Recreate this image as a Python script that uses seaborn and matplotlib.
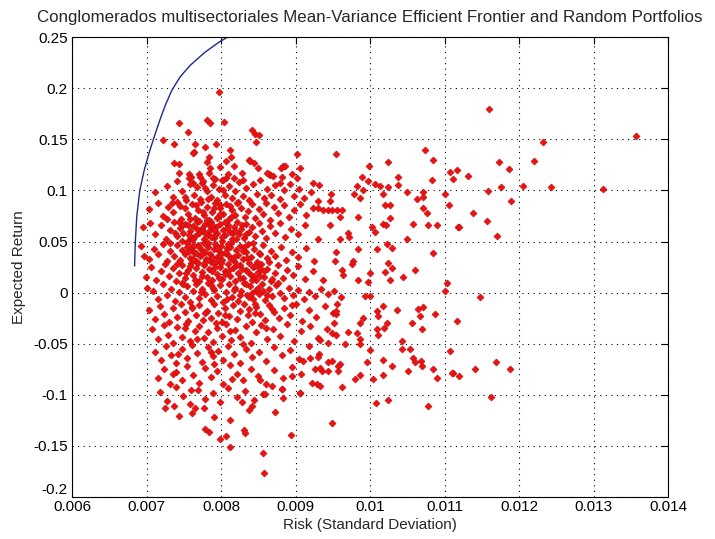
import matplotlib
matplotlib.use("Agg")
import matplotlib.pyplot as plt
import seaborn as sns
import pandas as pd

# efficient frontier (risk, return)
frontier_risk = [0.00684, 0.00685, 0.00687, 0.00691, 0.00697, 0.00704, 0.00711, 0.00718,
                 0.00725, 0.00734, 0.00745, 0.00758, 0.00778, 0.00797, 0.00811, 0.00830]
frontier_ret = [0.026, 0.050, 0.075, 0.100, 0.120, 0.138, 0.154, 0.169,
                0.183, 0.198, 0.211, 0.222, 0.235, 0.245, 0.251, 0.259]

# random portfolios, grouped by region of the cloud
upper_pts = [(0.00797, 0.196), (0.00743, 0.166), (0.00781, 0.169), (0.00785, 0.166), (0.00804, 0.167),
             (0.00756, 0.157), (0.00722, 0.149), (0.00737, 0.145), (0.00765, 0.145), (0.00778, 0.143),
             (0.00793, 0.145), (0.00764, 0.138), (0.00812, 0.140), (0.00813, 0.133), (0.00784, 0.133),
             (0.00781, 0.128), (0.00842, 0.159), (0.00846, 0.155), (0.00851, 0.154), (0.00847, 0.147),
             (0.00737, 0.127), (0.00743, 0.126), (0.00744, 0.117), (0.00757, 0.116), (0.00760, 0.113),
             (0.00770, 0.116), (0.00772, 0.113), (0.00784, 0.117), (0.00799, 0.123), (0.00807, 0.129),
             (0.00817, 0.124), (0.00838, 0.130), (0.00844, 0.127), (0.00864, 0.116), (0.00828, 0.117),
             (0.00807, 0.112), (0.00902, 0.136), (0.00883, 0.124), (0.00880, 0.122), (0.00906, 0.122),
             (0.00866, 0.115), (0.00870, 0.114), (0.00882, 0.113), (0.00902, 0.112), (0.00762, 0.137),
             (0.00785, 0.122), (0.00809, 0.116), (0.00803, 0.110), (0.00762, 0.107), (0.00839, 0.129),
             (0.00862, 0.117), (0.00886, 0.124), (0.00879, 0.107), (0.00924, 0.107), (0.00830, 0.110),
             (0.00792, 0.111), (0.00775, 0.107), (0.00895, 0.116), (0.00850, 0.122)]

core_a = [(0.00712, 0.098), (0.00728, 0.104), (0.00735, 0.094), (0.00741, 0.109), (0.00748, 0.099),
          (0.00753, 0.091), (0.00759, 0.106), (0.00764, 0.096), (0.00768, 0.103), (0.00772, 0.092),
          (0.00776, 0.109), (0.00781, 0.099), (0.00786, 0.094), (0.00789, 0.105), (0.00794, 0.091),
          (0.00797, 0.101), (0.00801, 0.110), (0.00806, 0.096), (0.00811, 0.104), (0.00815, 0.093),
          (0.00819, 0.099), (0.00824, 0.108), (0.00829, 0.095), (0.00833, 0.102), (0.00838, 0.091),
          (0.00843, 0.106), (0.00848, 0.097), (0.00853, 0.110), (0.00858, 0.093), (0.00862, 0.101),
          (0.00867, 0.096), (0.00873, 0.105), (0.00879, 0.092), (0.00885, 0.100), (0.00892, 0.106),
          (0.00898, 0.095), (0.00905, 0.101), (0.00912, 0.093), (0.00921, 0.098), (0.00757, 0.112),
          (0.00818, 0.112)]

core_b = [(0.00703, 0.082), (0.00716, 0.088), (0.00722, 0.075), (0.00729, 0.084), (0.00736, 0.079),
          (0.00741, 0.089), (0.00746, 0.072), (0.00751, 0.083), (0.00756, 0.077), (0.00761, 0.087),
          (0.00765, 0.073), (0.00769, 0.081), (0.00773, 0.089), (0.00777, 0.076), (0.00781, 0.084),
          (0.00784, 0.071), (0.00788, 0.079), (0.00792, 0.088), (0.00796, 0.074), (0.00799, 0.083),
          (0.00803, 0.077), (0.00807, 0.087), (0.00811, 0.072), (0.00815, 0.081), (0.00819, 0.076),
          (0.00823, 0.089), (0.00827, 0.083), (0.00832, 0.074), (0.00836, 0.080), (0.00841, 0.087),
          (0.00846, 0.073), (0.00851, 0.082), (0.00856, 0.077), (0.00861, 0.088), (0.00866, 0.071),
          (0.00871, 0.084), (0.00877, 0.078), (0.00884, 0.086), (0.00891, 0.074), (0.00898, 0.081),
          (0.00906, 0.087), (0.00914, 0.076), (0.00923, 0.083), (0.00745, 0.085), (0.00790, 0.083),
          (0.00812, 0.085)]

core_c = [(0.00695, 0.064), (0.00705, 0.068), (0.00712, 0.057), (0.00719, 0.066), (0.00726, 0.052),
          (0.00731, 0.061), (0.00737, 0.069), (0.00741, 0.055), (0.00745, 0.063), (0.00749, 0.058),
          (0.00752, 0.067), (0.00756, 0.051), (0.00759, 0.060), (0.00762, 0.065), (0.00765, 0.055),
          (0.00768, 0.069), (0.00771, 0.058), (0.00774, 0.063), (0.00777, 0.052), (0.00779, 0.067),
          (0.00782, 0.056), (0.00785, 0.061), (0.00787, 0.069), (0.00790, 0.053), (0.00793, 0.064),
          (0.00795, 0.058), (0.00798, 0.067), (0.00801, 0.051), (0.00803, 0.061), (0.00806, 0.056),
          (0.00809, 0.066), (0.00812, 0.059), (0.00815, 0.052), (0.00818, 0.064), (0.00821, 0.069),
          (0.00824, 0.057), (0.00827, 0.062), (0.00831, 0.053), (0.00834, 0.067), (0.00838, 0.059),
          (0.00842, 0.064), (0.00846, 0.055), (0.00851, 0.068), (0.00855, 0.060), (0.00860, 0.053),
          (0.00866, 0.065), (0.00872, 0.058), (0.00879, 0.068), (0.00886, 0.054), (0.00894, 0.062),
          (0.00903, 0.057), (0.00913, 0.066), (0.00748, 0.066), (0.00776, 0.060), (0.00792, 0.056),
          (0.00808, 0.063), (0.00760, 0.053), (0.00784, 0.066), (0.00816, 0.058), (0.00828, 0.066)]

core_d = [(0.00692, 0.046), (0.00697, 0.036), (0.00703, 0.033), (0.00710, 0.043), (0.00716, 0.038),
          (0.00722, 0.048), (0.00727, 0.031), (0.00732, 0.041), (0.00737, 0.036), (0.00741, 0.047),
          (0.00745, 0.032), (0.00748, 0.042), (0.00752, 0.038), (0.00755, 0.049), (0.00758, 0.034),
          (0.00761, 0.044), (0.00764, 0.039), (0.00767, 0.031), (0.00769, 0.047), (0.00772, 0.036),
          (0.00775, 0.042), (0.00777, 0.049), (0.00780, 0.033), (0.00782, 0.045), (0.00785, 0.038),
          (0.00787, 0.030), (0.00790, 0.043), (0.00792, 0.048), (0.00795, 0.035), (0.00797, 0.041),
          (0.00800, 0.046), (0.00802, 0.032), (0.00805, 0.039), (0.00808, 0.044), (0.00811, 0.036),
          (0.00814, 0.049), (0.00817, 0.031), (0.00820, 0.042), (0.00823, 0.037), (0.00826, 0.046),
          (0.00829, 0.033), (0.00833, 0.040), (0.00836, 0.048), (0.00840, 0.035), (0.00844, 0.043),
          (0.00848, 0.030), (0.00852, 0.038), (0.00857, 0.047), (0.00862, 0.034), (0.00867, 0.041),
          (0.00873, 0.036), (0.00880, 0.045), (0.00887, 0.032), (0.00895, 0.040), (0.00904, 0.035),
          (0.00914, 0.044), (0.00925, 0.031), (0.00763, 0.047), (0.00786, 0.034), (0.00799, 0.037),
          (0.00812, 0.045), (0.00778, 0.040), (0.00757, 0.041), (0.00831, 0.045), (0.00794, 0.031),
          (0.00818, 0.035)]

core_e = [(0.00699, 0.015), (0.00706, 0.025), (0.00713, 0.012), (0.00719, 0.021), (0.00725, 0.028),
          (0.00730, 0.016), (0.00735, 0.024), (0.00740, 0.011), (0.00744, 0.019), (0.00748, 0.027),
          (0.00752, 0.014), (0.00756, 0.022), (0.00760, 0.029), (0.00763, 0.017), (0.00767, 0.024),
          (0.00770, 0.011), (0.00774, 0.020), (0.00777, 0.027), (0.00781, 0.015), (0.00784, 0.023),
          (0.00788, 0.012), (0.00791, 0.029), (0.00795, 0.018), (0.00798, 0.025), (0.00802, 0.013),
          (0.00805, 0.021), (0.00809, 0.028), (0.00812, 0.016), (0.00816, 0.024), (0.00819, 0.011),
          (0.00823, 0.019), (0.00826, 0.027), (0.00830, 0.014), (0.00833, 0.022), (0.00837, 0.029),
          (0.00840, 0.017), (0.00843, 0.025), (0.00847, 0.012), (0.00850, 0.020), (0.00854, 0.028),
          (0.00858, 0.015), (0.00862, 0.023), (0.00867, 0.011), (0.00872, 0.019), (0.00877, 0.027),
          (0.00883, 0.014), (0.00889, 0.022), (0.00896, 0.017), (0.00904, 0.026), (0.00913, 0.013),
          (0.00923, 0.021), (0.00836, 0.020), (0.00844, 0.016), (0.00852, 0.024), (0.00828, 0.023),
          (0.00806, 0.018), (0.00775, 0.016), (0.00758, 0.026), (0.00788, 0.021)]

core_f = [(0.00701, 0.005), (0.00709, 0.002), (0.00716, -0.006), (0.00722, 0.008), (0.00728, -0.002),
          (0.00733, 0.004), (0.00738, -0.008), (0.00743, 0.001), (0.00747, 0.009), (0.00751, -0.004),
          (0.00755, 0.006), (0.00759, -0.009), (0.00763, 0.002), (0.00767, 0.008), (0.00771, -0.005),
          (0.00775, 0.004), (0.00779, -0.001), (0.00783, 0.009), (0.00787, -0.007), (0.00791, 0.003),
          (0.00795, -0.003), (0.00799, 0.007), (0.00803, -0.009), (0.00807, 0.001), (0.00811, 0.008),
          (0.00815, -0.004), (0.00819, 0.005), (0.00823, -0.008), (0.00827, 0.002), (0.00831, 0.009),
          (0.00835, -0.002), (0.00839, 0.006), (0.00843, -0.006), (0.00847, 0.003), (0.00851, -0.001),
          (0.00855, 0.008), (0.00859, -0.007), (0.00864, 0.004), (0.00869, -0.003), (0.00874, 0.007),
          (0.00879, 0.000), (0.00885, -0.005), (0.00891, 0.005), (0.00897, -0.002), (0.00904, 0.003),
          (0.00911, -0.006), (0.00918, 0.001), (0.00926, -0.003), (0.00934, 0.004), (0.00943, -0.001),
          (0.00952, 0.002), (0.00961, -0.004), (0.00841, 0.000), (0.00862, -0.002), (0.00877, 0.009),
          (0.00808, -0.006), (0.00789, 0.005)]

core_g = [(0.00703, -0.017), (0.00711, -0.026), (0.00718, -0.013), (0.00724, -0.021), (0.00730, -0.029),
          (0.00735, -0.015), (0.00741, -0.024), (0.00746, -0.011), (0.00751, -0.019), (0.00756, -0.028),
          (0.00761, -0.014), (0.00766, -0.022), (0.00771, -0.012), (0.00776, -0.027), (0.00781, -0.018),
          (0.00786, -0.025), (0.00791, -0.011), (0.00796, -0.020), (0.00801, -0.029), (0.00806, -0.015),
          (0.00811, -0.023), (0.00816, -0.012), (0.00821, -0.026), (0.00826, -0.018), (0.00831, -0.011),
          (0.00836, -0.022), (0.00842, -0.029), (0.00847, -0.014), (0.00853, -0.021), (0.00859, -0.027),
          (0.00865, -0.012), (0.00871, -0.019), (0.00878, -0.025), (0.00885, -0.015), (0.00893, -0.022),
          (0.00901, -0.011), (0.00909, -0.028), (0.00918, -0.017), (0.00928, -0.024), (0.00939, -0.013),
          (0.00950, -0.020), (0.00956, -0.011), (0.00868, -0.016), (0.00895, -0.012), (0.00838, -0.016)]

core_h = [(0.00708, -0.036), (0.00716, -0.045), (0.00723, -0.032), (0.00729, -0.041), (0.00735, -0.049),
          (0.00741, -0.034), (0.00747, -0.043), (0.00753, -0.031), (0.00759, -0.047), (0.00765, -0.038),
          (0.00771, -0.033), (0.00777, -0.044), (0.00783, -0.039), (0.00789, -0.048), (0.00795, -0.035),
          (0.00801, -0.042), (0.00807, -0.031), (0.00813, -0.046), (0.00819, -0.037), (0.00826, -0.043),
          (0.00833, -0.033), (0.00840, -0.049), (0.00847, -0.039), (0.00854, -0.032), (0.00862, -0.045),
          (0.00870, -0.036), (0.00879, -0.042), (0.00888, -0.031), (0.00898, -0.047), (0.00908, -0.038),
          (0.00919, -0.033), (0.00930, -0.044), (0.00942, -0.036), (0.00955, -0.041)]

core_i = [(0.00712, -0.058), (0.00719, -0.066), (0.00726, -0.052), (0.00733, -0.061), (0.00740, -0.069),
          (0.00747, -0.055), (0.00754, -0.064), (0.00761, -0.051), (0.00768, -0.059), (0.00775, -0.068),
          (0.00782, -0.053), (0.00789, -0.062), (0.00796, -0.057), (0.00803, -0.066), (0.00810, -0.052),
          (0.00818, -0.060), (0.00826, -0.069), (0.00834, -0.055), (0.00842, -0.063), (0.00851, -0.058),
          (0.00861, -0.067), (0.00871, -0.053), (0.00882, -0.061), (0.00893, -0.056), (0.00905, -0.065),
          (0.00918, -0.052), (0.00931, -0.060), (0.00944, -0.068)]

core_j = [(0.00715, -0.084), (0.00723, -0.075), (0.00731, -0.089), (0.00739, -0.078), (0.00747, -0.086),
          (0.00755, -0.072), (0.00763, -0.081), (0.00771, -0.088), (0.00779, -0.074), (0.00787, -0.083),
          (0.00795, -0.077), (0.00803, -0.089), (0.00812, -0.071), (0.00821, -0.080), (0.00830, -0.086),
          (0.00840, -0.075), (0.00850, -0.082), (0.00860, -0.089), (0.00871, -0.076), (0.00883, -0.084),
          (0.00895, -0.073), (0.00908, -0.080), (0.00922, -0.088), (0.00935, -0.077)]

core_k = [(0.00718, -0.097), (0.00728, -0.106), (0.00739, -0.092), (0.00749, -0.101), (0.00759, -0.109),
          (0.00769, -0.095), (0.00779, -0.104), (0.00789, -0.098), (0.00799, -0.107), (0.00810, -0.093),
          (0.00821, -0.102), (0.00832, -0.096), (0.00844, -0.105), (0.00856, -0.099), (0.00869, -0.091),
          (0.00882, -0.094), (0.00906, -0.098)]

# the most crowded part of the cloud
core_dense = [(0.00763, 0.052), (0.00771, 0.045), (0.00779, 0.058), (0.00783, 0.049), (0.00791, 0.061),
              (0.00796, 0.044), (0.00774, 0.038), (0.00788, 0.035), (0.00802, 0.054), (0.00768, 0.062),
              (0.00781, 0.071), (0.00795, 0.073), (0.00809, 0.048), (0.00754, 0.045), (0.00747, 0.051),
              (0.00759, 0.072), (0.00776, 0.079), (0.00788, 0.066), (0.00800, 0.029), (0.00813, 0.033),
              (0.00822, 0.027), (0.00835, 0.034), (0.00829, 0.041), (0.00845, 0.026), (0.00841, 0.012),
              (0.00849, 0.005), (0.00834, 0.008), (0.00826, 0.014), (0.00853, 0.016), (0.00857, 0.002),
              (0.00838, -0.004), (0.00846, -0.011), (0.00825, -0.002), (0.00817, 0.003), (0.00858, 0.021),
              (0.00864, 0.030), (0.00869, 0.013), (0.00811, 0.022), (0.00797, 0.014), (0.00786, 0.007),
              (0.00773, 0.001), (0.00765, 0.012), (0.00753, 0.019), (0.00741, 0.028), (0.00762, 0.033),
              (0.00738, 0.058), (0.00731, 0.049), (0.00727, 0.072), (0.00734, 0.088), (0.00752, 0.094),
              (0.00767, 0.086), (0.00782, 0.092), (0.00798, 0.086), (0.00805, 0.069), (0.00814, 0.074),
              (0.00820, 0.052), (0.00792, 0.025), (0.00778, 0.030), (0.00766, 0.039), (0.00757, 0.056),
              (0.00744, 0.069), (0.00807, 0.040), (0.00819, 0.060), (0.00833, 0.057), (0.00843, 0.049),
              (0.00851, 0.039), (0.00822, 0.088), (0.00803, 0.100), (0.00789, 0.112), (0.00779, 0.102),
              (0.00770, 0.070), (0.00798, 0.077), (0.00756, 0.066), (0.00786, 0.054), (0.00769, 0.029),
              (0.00749, 0.008), (0.00761, -0.015), (0.00778, -0.020), (0.00793, -0.030), (0.00805, -0.022),
              (0.00752, -0.035), (0.00742, -0.060), (0.00768, -0.045), (0.00786, -0.058), (0.00812, -0.038),
              (0.00845, -0.020), (0.00860, -0.035), (0.00830, -0.050), (0.00735, -0.080), (0.00760, -0.095),
              (0.00790, -0.070), (0.00815, -0.085)]

lower_pts = [(0.00725, -0.113), (0.00737, -0.111), (0.00761, -0.118), (0.00765, -0.113), (0.00777, -0.113),
             (0.00778, -0.133), (0.00784, -0.136), (0.00799, -0.143), (0.00807, -0.140), (0.00812, -0.125),
             (0.00812, -0.151), (0.00828, -0.107), (0.00831, -0.134), (0.00832, -0.137), (0.00838, -0.115),
             (0.00842, -0.111), (0.00856, -0.157), (0.00858, -0.177), (0.00872, -0.117), (0.00894, -0.139),
             (0.00949, -0.128), (0.01008, -0.108), (0.01024, -0.105), (0.01078, -0.111), (0.01162, -0.102),
             (0.00744, -0.121), (0.00790, -0.122)]

right_upper_pts = [(0.00954, 0.136), (0.01074, 0.140), (0.01085, 0.130), (0.01024, 0.128), (0.00999, 0.124),
                   (0.01107, 0.118), (0.01117, 0.120), (0.01112, 0.111), (0.00932, 0.105), (0.00989, 0.113),
                   (0.01037, 0.113), (0.01083, 0.110), (0.00997, 0.109), (0.01007, 0.106), (0.01013, 0.104),
                   (0.01024, 0.103), (0.01038, 0.105), (0.00983, 0.104), (0.00991, 0.100), (0.01050, 0.098),
                   (0.01071, 0.098), (0.01101, 0.097), (0.00948, 0.097), (0.00979, 0.097), (0.00987, 0.093),
                   (0.01017, 0.097), (0.01063, 0.092), (0.01071, 0.094), (0.00930, 0.090), (0.00946, 0.090),
                   (0.00937, 0.081), (0.00943, 0.081), (0.00949, 0.081), (0.00956, 0.081), (0.00962, 0.081),
                   (0.00930, 0.083), (0.01020, 0.086), (0.01027, 0.086), (0.01071, 0.083), (0.01076, 0.078),
                   (0.01106, 0.086), (0.00960, 0.074), (0.00984, 0.074), (0.01027, 0.073), (0.01058, 0.067),
                   (0.01078, 0.066), (0.01090, 0.066), (0.01118, 0.064), (0.00946, 0.066), (0.01003, 0.064),
                   (0.01007, 0.059), (0.01017, 0.067), (0.01022, 0.066), (0.00970, 0.058), (0.00972, 0.054),
                   (0.00960, 0.052), (0.00930, 0.052), (0.01050, 0.052), (0.01023, 0.048), (0.01030, 0.044),
                   (0.00984, 0.043), (0.01009, 0.043), (0.01085, 0.039), (0.00954, 0.040), (0.00977, 0.031),
                   (0.00976, 0.028), (0.00953, 0.031), (0.01024, 0.029), (0.01030, 0.024), (0.01060, 0.022),
                   (0.00962, 0.022), (0.00964, 0.017), (0.01000, 0.019), (0.01027, 0.012), (0.01020, 0.020),
                   (0.01044, 0.015), (0.00997, 0.010), (0.00984, 0.012), (0.01103, 0.009), (0.00937, 0.012)]

far_right_pts = [(0.01160, 0.180), (0.01357, 0.153), (0.01232, 0.147), (0.01220, 0.129), (0.01173, 0.128),
                 (0.01187, 0.121), (0.01132, 0.114), (0.01158, 0.099), (0.01176, 0.103), (0.01205, 0.104),
                 (0.01243, 0.103), (0.01313, 0.101), (0.01189, 0.090), (0.01138, 0.078), (0.01157, 0.070),
                 (0.01119, 0.064), (0.01170, 0.055), (0.01148, -0.004), (0.01117, -0.028), (0.01107, -0.057),
                 (0.01169, -0.068), (0.01188, -0.075), (0.01141, -0.075), (0.01111, -0.079), (0.01119, -0.082)]

right_lower_pts = [(0.01101, 0.002), (0.01000, -0.003), (0.00993, -0.003), (0.01017, -0.013), (0.01036, -0.017),
                   (0.01064, -0.016), (0.01071, -0.014), (0.01067, -0.023), (0.01087, -0.021), (0.01009, -0.018),
                   (0.01011, -0.023), (0.01056, -0.030), (0.01070, -0.036), (0.01023, -0.030), (0.01009, -0.036),
                   (0.01019, -0.035), (0.01011, -0.041), (0.00987, -0.030), (0.00990, -0.025), (0.00987, -0.045),
                   (0.00986, -0.050), (0.01043, -0.047), (0.01043, -0.055), (0.01054, -0.055), (0.01058, -0.064),
                   (0.01060, -0.068), (0.01068, -0.067), (0.01070, -0.072), (0.01030, -0.072), (0.01051, -0.077),
                   (0.01017, -0.066), (0.01000, -0.056), (0.00996, -0.068), (0.00987, -0.081), (0.01004, -0.085),
                   (0.01017, -0.081), (0.01085, -0.075), (0.01090, -0.084), (0.01110, -0.079), (0.00883, -0.103),
                   (0.00882, -0.094), (0.00859, -0.099), (0.00852, -0.086), (0.00906, -0.098), (0.00895, -0.082),
                   (0.00929, -0.089), (0.00933, -0.091), (0.00962, -0.092), (0.00980, -0.085), (0.00926, -0.075),
                   (0.00933, -0.074), (0.00944, -0.077), (0.00957, -0.077), (0.00960, -0.070), (0.00957, -0.072),
                   (0.00949, -0.067), (0.00930, -0.063), (0.00920, -0.064), (0.00910, -0.067), (0.00966, -0.050),
                   (0.00944, -0.049), (0.00933, -0.046), (0.00949, -0.040), (0.00970, -0.039), (0.00983, -0.040),
                   (0.00951, -0.030), (0.00955, -0.021), (0.00955, -0.018)]

x_ticks = [0.006, 0.007, 0.008, 0.009, 0.01, 0.011, 0.012, 0.013, 0.014]
y_ticks = [-0.2, -0.15, -0.1, -0.05, 0, 0.05, 0.1, 0.15, 0.2, 0.25]
x_ticklabels = ['0.006', '0.007', '0.008', '0.009', '0.01', '0.011', '0.012', '0.013', '0.014']
y_ticklabels = ['-0.2', '-0.15', '-0.1', '-0.05', '0', '0.05', '0.1', '0.15', '0.2', '0.25']

all_pts = (upper_pts + core_a + core_b + core_c + core_d + core_e + core_f + core_g + core_h
           + core_i + core_j + core_k + core_dense + lower_pts + right_upper_pts + far_right_pts
           + right_lower_pts)
df = pd.DataFrame(all_pts, columns=['risk', 'ret'])
df_front = pd.DataFrame({'risk': frontier_risk, 'ret': frontier_ret})

sns.set_style("white")
plt.rcParams['font.family'] = ['Liberation Sans', 'DejaVu Sans']

fig = plt.figure(figsize=(7.15, 5.39), dpi=100)
ax = fig.add_axes([0.1007, 0.078, 0.8336, 0.853])

sns.lineplot(data=df_front, x='risk', y='ret', sort=False, color='#1c2a8c', linewidth=1.0, ax=ax)
sns.scatterplot(data=df, x='risk', y='ret', marker='D', s=13, color='#f01010',
                edgecolor='#b40f0f', linewidth=0.4, ax=ax, zorder=3)

ax.set_xlim(0.006, 0.014)
ax.set_ylim(-0.2, 0.25)
ax.set_xticks(x_ticks)
ax.set_xticklabels(x_ticklabels)
ax.set_yticks(y_ticks)
ax.set_yticklabels(y_ticklabels)
ax.tick_params(direction='in', length=5, width=0.8, top=True, right=True,
               labelsize=11, colors='black')
ax.tick_params(axis='x', pad=2)
ax.tick_params(axis='y', pad=3)
# bottom y label sits just above the corner, as in the original
ax.get_yticklabels()[0].set_va('bottom')
ax.grid(True, linestyle=(0, (1, 4)), color='black', linewidth=0.8)
for sp in ax.spines.values():
    sp.set_color('black')
    sp.set_linewidth(0.8)

ax.set_title('Conglomerados multisectoriales Mean-Variance Efficient Frontier and Random Portfolios',
             fontsize=12.2, pad=11)
ax.set_xlabel('Risk (Standard Deviation)', fontsize=11, labelpad=3)
ax.set_ylabel('Expected Return', fontsize=11, labelpad=5)

fig.savefig('out.png', dpi=100, facecolor='white')
